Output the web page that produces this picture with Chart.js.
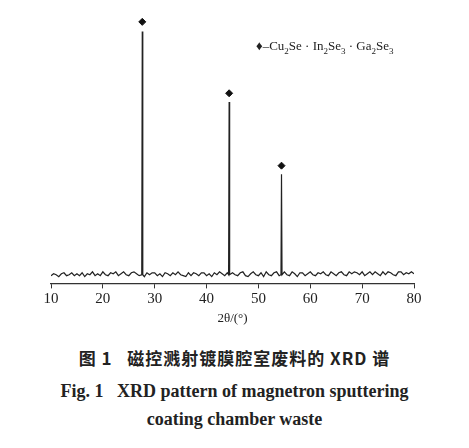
<!DOCTYPE html>
<html><head><meta charset="utf-8">
<script src="https://cdn.jsdelivr.net/npm/chart.js@4"></script>
<style>
body{margin:0;background:#fff;width:469px;height:448px;position:relative;overflow:hidden;font-family:"Liberation Serif",serif}
#c{position:absolute;left:0;top:0;width:469px;height:330px}
.leg{position:absolute;left:256px;top:38px;font-size:13px;color:#222}
.leg sub{font-size:9px}
.cap{position:absolute;left:0;width:469px;text-align:center;font-weight:bold;color:#222}
</style></head><body>
<canvas id="c" width="469" height="330"></canvas>
<div class="leg">♦–Cu<sub>2</sub>Se · In<sub>2</sub>Se<sub>3</sub> · Ga<sub>2</sub>Se<sub>3</sub></div>
<div class="cap" style="top:345px;font-size:17px;font-family:'Noto Sans CJK SC';font-weight:bold;letter-spacing:1px">图 1&nbsp;&nbsp;&nbsp;磁控溅射镀膜腔室废料的 XRD 谱</div>
<div class="cap" style="top:381px;font-size:18px">Fig. 1&nbsp;&nbsp;&nbsp;XRD pattern of magnetron sputtering</div>
<div class="cap" style="top:409px;font-size:18px">coating chamber waste</div>
<script>
const baseStart = 10, baseStep = 0.5;
const baseline = [8,10,9,7,10,11,8,9,11,8,10,8,11,7,10,9,12,8,10,8,12,9,8,11,10,12,8,10,12,9,8,11,12,10,8,11,7,11,9,11,
 11,8,10,7,11,10,8,11,9,12,9,8,7,11,8,11,10,8,11,11,8,10,7,11,9,12,10,8,11,7,11,9,8,11,12,8,7,10,12,9,
 8,11,7,12,9,8,11,12,8,10,12,9,8,12,10,7,11,11,8,10,12,9,8,11,10,12,9,8,12,10,8,11,12,9,8,12,10,12,11,9,
 12,8,10,12,9,12,10,8,12,9,12,11,9,8,12,12,9,11,10,12,10];
const peakX = [27.5,27.6,27.7, 44.25,44.35,44.45, 54.35,54.45,54.55];
const peakY = [9,261,9, 9,188,9, 9,113,9];
const markerX = [27.6,44.35,54.45];
const markerY = [271,197,122];
const xTicks = [10,20,30,40,50,60,70,80];

const pts = baseline.map((v,i)=>({x:baseStart+i*baseStep,y:v}))
  .filter(p=>!peakX.some(px=>Math.abs(px-p.x)<0.2));
peakX.forEach((x,i)=>pts.push({x,y:peakY[i]}));
pts.sort((a,b)=>a.x-b.x);

new Chart(document.getElementById('c'),{
 type:'scatter',
 data:{datasets:[
  {data:pts,showLine:true,borderColor:'#222',borderWidth:1.2,pointRadius:0,tension:0},
  {data:markerX.map((x,i)=>({x,y:markerY[i]})),pointStyle:'rectRot',pointRadius:3.5,backgroundColor:'#111',borderColor:'#111'}
 ]},
 options:{animation:false,responsive:false,devicePixelRatio:1,
  layout:{padding:{left:51,right:55,top:18,bottom:0}},
  plugins:{legend:{display:false},tooltip:{enabled:false}},
  scales:{
   x:{type:'linear',min:10,max:80,afterBuildTicks:s=>{s.ticks=xTicks.map(v=>({value:v}))},
    border:{color:'#333',width:1.2},
    grid:{drawOnChartArea:false,drawTicks:true,tickLength:5,color:'#333'},
    ticks:{color:'#222',font:{family:'Liberation Serif',size:15},padding:2,maxRotation:0},
    title:{display:true,text:'2θ/(°)',color:'#222',font:{family:'Liberation Serif',size:13},padding:{top:0}}},
   y:{display:false,min:0,max:275}
  }}
});
</script>
</body></html>
